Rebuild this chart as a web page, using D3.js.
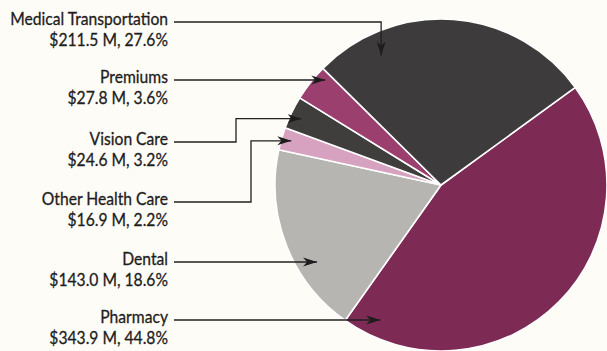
<!DOCTYPE html>
<html>
<head>
<meta charset="utf-8">
<script src="https://cdn.jsdelivr.net/npm/d3@7"></script>
<style>
  html, body { margin: 0; padding: 0; background: #fdfcf6; }
  svg { display: block; }
  text { font-family: Lato, "Open Sans", sans-serif; fill: #1f1d1d; stroke: #1f1d1d; stroke-width: 0.3px; }
</style>
</head>
<body>
<svg id="chart" width="607" height="351"></svg>
<script>
// Spending by service category (pie order, clockwise)
const categories = ["Pharmacy", "Dental", "Other Health Care", "Vision Care", "Premiums", "Medical Transportation"];
const amounts = [343.9, 143.0, 16.9, 24.6, 27.8, 211.5];   // $ millions
const percents = [44.8, 18.6, 2.2, 3.2, 3.6, 27.6];        // share of total
const colors = ["#7d2a55", "#b7b5b1", "#d6a2bf", "#403e3d", "#9b3f6f", "#3d3b3b"];

// Label layout: first-line baseline, leader style, and where the arrow lands inside its slice
const labelBaseline = [323, 265, 205, 145, 83, 25];
const leaderKind = ["straight", "straight", "elbow", "elbow", "straight", "down"];
const leaderElbowX = [null, null, 251, 236, null, null];
const tipAngleFrac = [0.93, 0.34, 0.53, 0.46, 0.86, 0.207];
const tipRadiusFrac = [0.90, 0.88, 0.94, 0.93, 0.95, 0.86];

const svg = d3.select("#chart");
const cx = 441, cy = 185, radius = 166;
const startDeg = 54;

const data = categories.map((c, i) => ({
  name: c, amount: amounts[i], pct: percents[i], color: colors[i], i
}));

const pie = d3.pie()
  .sort(null)
  .value(d => d.pct)
  .startAngle(startDeg * Math.PI / 180)
  .endAngle(startDeg * Math.PI / 180 + 2 * Math.PI);

const arcs = pie(data);
const arc = d3.arc().innerRadius(0).outerRadius(radius);

const g = svg.append("g").attr("transform", `translate(${cx},${cy})`);
g.selectAll("path.slice")
  .data(arcs)
  .join("path")
  .attr("class", "slice")
  .attr("d", arc)
  .attr("fill", d => d.data.color)
  .attr("stroke", "#ffffff")
  .attr("stroke-width", 1.6)
  .attr("stroke-linejoin", "round");

// Arrowhead marker
svg.append("defs").append("marker")
  .attr("id", "arrow")
  .attr("viewBox", "-14 -5 15 10")
  .attr("refX", 0).attr("refY", 0)
  .attr("markerWidth", 15).attr("markerHeight", 10)
  .attr("markerUnits", "userSpaceOnUse")
  .attr("orient", "auto")
  .append("path")
  .attr("d", "M0,0 L-14,-4.5 L-10,0 L-14,4.5 Z")
  .attr("fill", "#1e1d1d");

const labelRight = 168;
const fmtAmt = d3.format(".1f");

arcs.forEach((a, k) => {
  const d = a.data;
  const base = labelBaseline[k];
  const lg = svg.append("g")
    .attr("transform", `translate(${labelRight},0) scale(0.9,1)`);
  lg.append("text")
    .attr("x", 0).attr("y", base)
    .attr("text-anchor", "end")
    .attr("font-size", 17.4)
    .text(d.name);
  lg.append("text")
    .attr("x", 0).attr("y", base + 21)
    .attr("text-anchor", "end")
    .attr("font-size", 17.4)
    .text(`$${fmtAmt(d.amount)} M, ${d.pct.toFixed(1)}%`);

  // Arrow tip inside the slice
  const ang = a.startAngle + (a.endAngle - a.startAngle) * tipAngleFrac[k];
  const rr = radius * tipRadiusFrac[k];
  const tx = cx + rr * Math.sin(ang);
  const ty = cy - rr * Math.cos(ang);

  const lineY = base - 3;
  const x0 = labelRight + 6;
  const p = d3.path();
  p.moveTo(x0, lineY);
  if (leaderKind[k] === "straight") {
    p.lineTo(tx, lineY);
  } else if (leaderKind[k] === "down") {
    p.lineTo(tx, lineY);
    p.lineTo(tx, ty);
  } else {
    const ex = leaderElbowX[k];
    p.lineTo(ex, lineY);
    p.lineTo(ex, ty);
    p.lineTo(tx, ty);
  }
  svg.append("path")
    .attr("d", p.toString())
    .attr("fill", "none")
    .attr("stroke", "#222020")
    .attr("stroke-width", 1.3)
    .attr("marker-end", "url(#arrow)");
});
</script>
</body>
</html>
